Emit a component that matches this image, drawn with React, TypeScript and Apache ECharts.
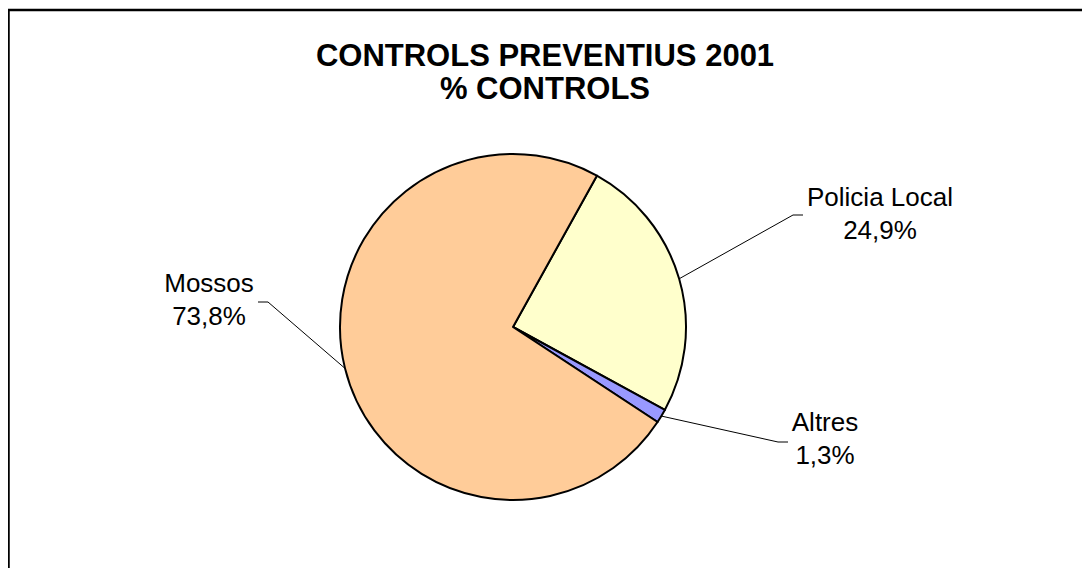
import React, { useEffect, useRef } from "react";
import * as echarts from "echarts";

const categories = ["Policia Local", "Altres", "Mossos"];
const percentages = [24.9, 1.3, 73.8];
const colors = ["#FFFFCC", "#9999FF", "#FFCC99"];
const titleLines = ["CONTROLS PREVENTIUS 2001", "% CONTROLS"];

// label layout (chart pixel coords): text centre, leader elbow, leader end
const labelCenters = [
  [872, 205],
  [817, 430],
  [201, 291],
];
const leaderElbows = [
  [785, 207],
  [770, 434],
  [260, 294],
];
const leaderEnds = [
  [795, 207],
  [780, 434],
  [250, 294],
];

const fmt = (v: number) => v.toFixed(1).replace(".", ",") + "%";

export default function App() {
  const ref = useRef<HTMLDivElement>(null);
  useEffect(() => {
    if (!ref.current) return;
    const chart = echarts.init(ref.current, null, { renderer: "svg" });
    const font = "'Liberation Sans', Arial, sans-serif";
    chart.setOption({
      animation: false,
      backgroundColor: "#ffffff",
      textStyle: { fontFamily: font },
      title: {
        text: titleLines.join("\n"),
        left: "center",
        top: 26,
        textStyle: {
          fontFamily: font,
          fontSize: 31,
          fontWeight: "bold",
          lineHeight: 33,
          color: "#000",
        },
      },
      graphic: [
        {
          type: "rect",
          shape: { x: 0.5, y: 2, width: 3000, height: 3000 },
          style: { fill: "none", stroke: "#000", lineWidth: 2.5 },
          silent: true,
        },
      ],
      series: [
        {
          type: "pie",
          center: [505, 319],
          radius: 173,
          startAngle: 61,
          clockwise: true,
          avoidLabelOverlap: false,
          itemStyle: { borderColor: "#000", borderWidth: 2 },
          emphasis: { disabled: true },
          label: {
            show: true,
            position: "outside",
            color: "#000",
            fontFamily: font,
            fontSize: 26,
            lineHeight: 33,
            align: "center",
            formatter: (p: any) => `${p.name}\n${fmt(p.value)}`,
          },
          labelLine: {
            show: true,
            lineStyle: { color: "#000", width: 1 },
          },
          labelLayout: (p: any) => {
            const i = p.dataIndex;
            const start = p.labelLinePoints ? p.labelLinePoints[0] : leaderElbows[i];
            return {
              x: labelCenters[i][0],
              y: labelCenters[i][1],
              align: "center",
              verticalAlign: "middle",
              labelLinePoints: [start, leaderElbows[i], leaderEnds[i]],
            };
          },
          data: categories.map((name, i) => ({
            name,
            value: percentages[i],
            itemStyle: { color: colors[i] },
          })),
        },
      ],
    });
    return () => chart.dispose();
  }, []);
  return (
    <div
      ref={ref}
      style={{ position: "absolute", left: 8, top: 8, width: 1074, height: 560 }}
    />
  );
}
